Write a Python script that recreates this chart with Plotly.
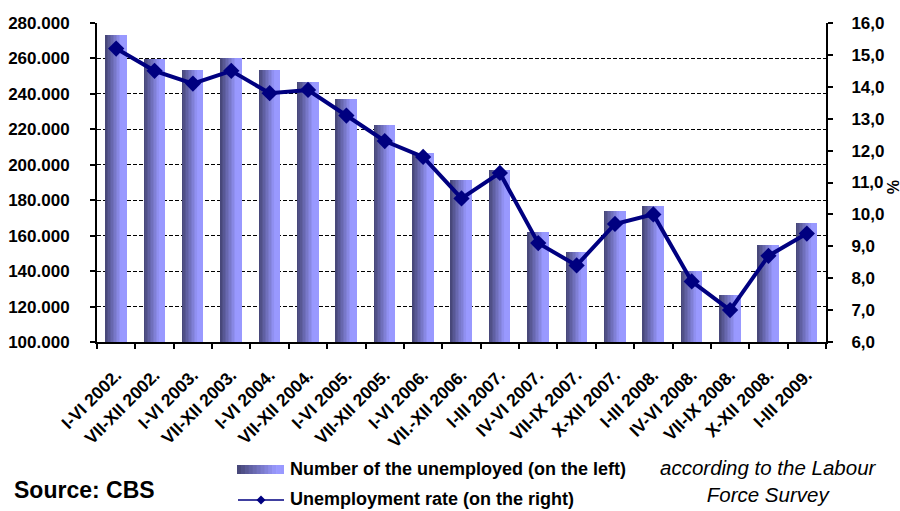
import plotly.graph_objects as go

# Survey periods
periods = [
    "I-VI 2002.", "VII-XII 2002.", "I-VI 2003.", "VII-XII 2003.", "I-VI 2004.",
    "VII-XII 2004.", "I-VI 2005.", "VII-XII 2005.", "I-VI 2006.", "VII.-XII 2006.",
    "I-III 2007.", "IV-VI 2007.", "VII-IX 2007.", "X-XII 2007.", "I-III 2008.",
    "IV-VI 2008.", "VII-IX 2008.", "X-XII 2008.", "I-III 2009.",
]
# Number of the unemployed (left axis)
unemployed = [
    273000, 259500, 253400, 260000, 253400,
    246600, 237000, 222400, 206600, 191400,
    197000, 162100, 150900, 174000, 176800,
    140200, 126600, 154800, 167200,
]
# Unemployment rate, % (right axis)
rate = [
    15.2, 14.5, 14.1, 14.5, 13.8,
    13.9, 13.1, 12.3, 11.8, 10.5,
    11.3, 9.1, 8.4, 9.7, 10.0,
    7.9, 7.0, 8.7, 9.4,
]
left_ticks = [100000, 120000, 140000, 160000, 180000, 200000, 220000, 240000, 260000, 280000]
right_ticks = [6, 7, 8, 9, 10, 11, 12, 13, 14, 15, 16]

W, H = 900, 511
PL, PR, PT, PB = 97, 826, 23, 342   # plot area in pixels

FONT = "Liberation Sans, Arial, sans-serif"
NAVY = "#000080"
DARK = (72, 72, 122)
LIGHT = (153, 153, 255)


def shade(t):
    t = max(0.0, min(1.0, t))
    r, g, b = (round(DARK[k] + (LIGHT[k] - DARK[k]) * t) for k in range(3))
    return f"rgb({r},{g},{b})"


def px_x(p):
    return (p - PL) / (PR - PL)


def px_y(p):
    return (PB - p) / (PB - PT)


fig = go.Figure()

# Bars are built from thin vertical slices to give a left-to-right shading
BAR_W = 0.55
N_SLICES = 14
sw = BAR_W / N_SLICES
for i in range(N_SLICES):
    fig.add_trace(go.Bar(
        x=periods, y=unemployed,
        width=sw * (1.0 if i == N_SLICES - 1 else 1.15),
        offset=-BAR_W / 2 + i * sw,
        marker=dict(color=shade(i / (N_SLICES * 0.72)), line=dict(width=0)),
        showlegend=False, hoverinfo="skip",
    ))

fig.add_trace(go.Scatter(
    x=periods, y=rate, yaxis="y2", mode="lines+markers",
    line=dict(color=NAVY, width=4),
    marker=dict(symbol="diamond", size=12.5, color=NAVY),
    showlegend=False,
))

tick_font = dict(family=FONT, size=17, color="black", weight="bold")

fig.update_layout(
    width=W, height=H,
    margin=dict(l=PL, r=W - PR, t=PT, b=H - PB),
    plot_bgcolor="white", paper_bgcolor="white",
    separators=",.",
    barmode="overlay",
    bargap=0,
    showlegend=False,
    xaxis=dict(
        type="category", showline=True, linecolor="black", linewidth=2,
        ticks="outside", ticklen=5, tickwidth=1.5, tickcolor="black",
        tickson="boundaries", tickangle=-45, ticklabelstandoff=14,
        tickfont=dict(family=FONT, size=17.5, color="black", weight="bold"),
        showgrid=False, zeroline=False, range=[-0.5, len(periods) - 0.5],
        automargin=False,
    ),
    yaxis=dict(
        range=[left_ticks[0], left_ticks[-1]], tickvals=left_ticks, tickformat=",d",
        showline=True, linecolor="black", linewidth=2,
        ticks="outside", ticklen=5, tickwidth=1.5, tickcolor="black",
        ticklabelstandoff=17,
        showgrid=True, gridcolor="black", gridwidth=1.3, griddash="4px,2px",
        zeroline=False, tickfont=tick_font, automargin=False,
    ),
    yaxis2=dict(
        overlaying="y", side="right", anchor="x",
        range=[right_ticks[0], right_ticks[-1]], tickvals=right_ticks, tickformat=".1f",
        showline=True, linecolor="black", linewidth=2,
        ticks="outside", ticklen=5, tickwidth=1.5, tickcolor="black",
        ticklabelstandoff=15,
        showgrid=False, zeroline=False, tickfont=tick_font, automargin=False,
    ),
    # inner halves of the crossing tick marks
    xaxis2=dict(
        overlaying="x", anchor="y", range=[-0.5, len(periods) - 0.5],
        tickvals=[k - 0.5 for k in range(len(periods) + 1)],
        ticks="inside", ticklen=4, tickwidth=1.5, tickcolor="black",
        showticklabels=False, showgrid=False, zeroline=False, showline=False,
        automargin=False,
    ),
    yaxis3=dict(
        overlaying="y", anchor="x", side="left",
        range=[left_ticks[0], left_ticks[-1]], tickvals=left_ticks,
        ticks="inside", ticklen=3, tickwidth=1.5, tickcolor="black",
        showticklabels=False, showgrid=False, zeroline=False, showline=False,
        automargin=False,
    ),
    yaxis4=dict(
        overlaying="y", anchor="x", side="right",
        range=[right_ticks[0], right_ticks[-1]], tickvals=right_ticks,
        ticks="inside", ticklen=4, tickwidth=1.5, tickcolor="black",
        showticklabels=False, showgrid=False, zeroline=False, showline=False,
        automargin=False,
    ),
)

shapes = []
annotations = []

# Legend: shaded bar swatch
sx0, sx1, sy0, sy1 = 237, 284, 465, 474
n_sw = 12
step = (sx1 - sx0) / n_sw
for i in range(n_sw):
    shapes.append(dict(
        type="rect", xref="paper", yref="paper", layer="above",
        x0=px_x(sx0 + i * step), x1=px_x(sx0 + (i + 1) * step + (0.6 if i < n_sw - 1 else 0)),
        y0=px_y(sy1), y1=px_y(sy0),
        fillcolor=shade(i / (n_sw * 0.8)), line=dict(width=0),
    ))
# Legend: line swatch with diamond
ly = 500
shapes.append(dict(
    type="line", xref="paper", yref="paper", layer="above",
    x0=px_x(238), x1=px_x(284), y0=px_y(ly), y1=px_y(ly),
    line=dict(color=NAVY, width=1.5),
))
dcx, dr = 261, 4.5
shapes.append(dict(
    type="path", xref="paper", yref="paper", layer="above",
    path=(f"M{px_x(dcx - dr)},{px_y(ly)} L{px_x(dcx)},{px_y(ly - dr)} "
          f"L{px_x(dcx + dr)},{px_y(ly)} L{px_x(dcx)},{px_y(ly + dr)} Z"),
    fillcolor=NAVY, line=dict(width=0),
))

legend_font = dict(family=FONT, size=18, color="black", weight="bold")
annotations.append(dict(
    text="Number of the unemployed (on the left)", xref="paper", yref="paper",
    x=px_x(288), y=px_y(469), xanchor="left", yanchor="middle",
    showarrow=False, font=legend_font,
))
annotations.append(dict(
    text="Unemployment rate (on the right)", xref="paper", yref="paper",
    x=px_x(288), y=px_y(499), xanchor="left", yanchor="middle",
    showarrow=False, font=legend_font,
))
annotations.append(dict(
    text="Source: CBS", xref="paper", yref="paper",
    x=px_x(12), y=px_y(490), xanchor="left", yanchor="middle",
    showarrow=False, font=dict(family=FONT, size=23, color="black", weight="bold"),
))
annotations.append(dict(
    text="<i>according to the Labour<br>Force Survey</i>", xref="paper", yref="paper",
    x=px_x(768), y=px_y(481), xanchor="center", yanchor="middle",
    showarrow=False, align="center",
    font=dict(family=FONT, size=20.5, color="black"),
))
annotations.append(dict(
    text="%", xref="paper", yref="paper",
    x=px_x(893), y=px_y(187), xanchor="center", yanchor="middle",
    showarrow=False, textangle=90,
    font=dict(family=FONT, size=16, color="black", weight="bold"),
))

fig.update_layout(shapes=shapes, annotations=annotations)

fig.write_html("out.html")
